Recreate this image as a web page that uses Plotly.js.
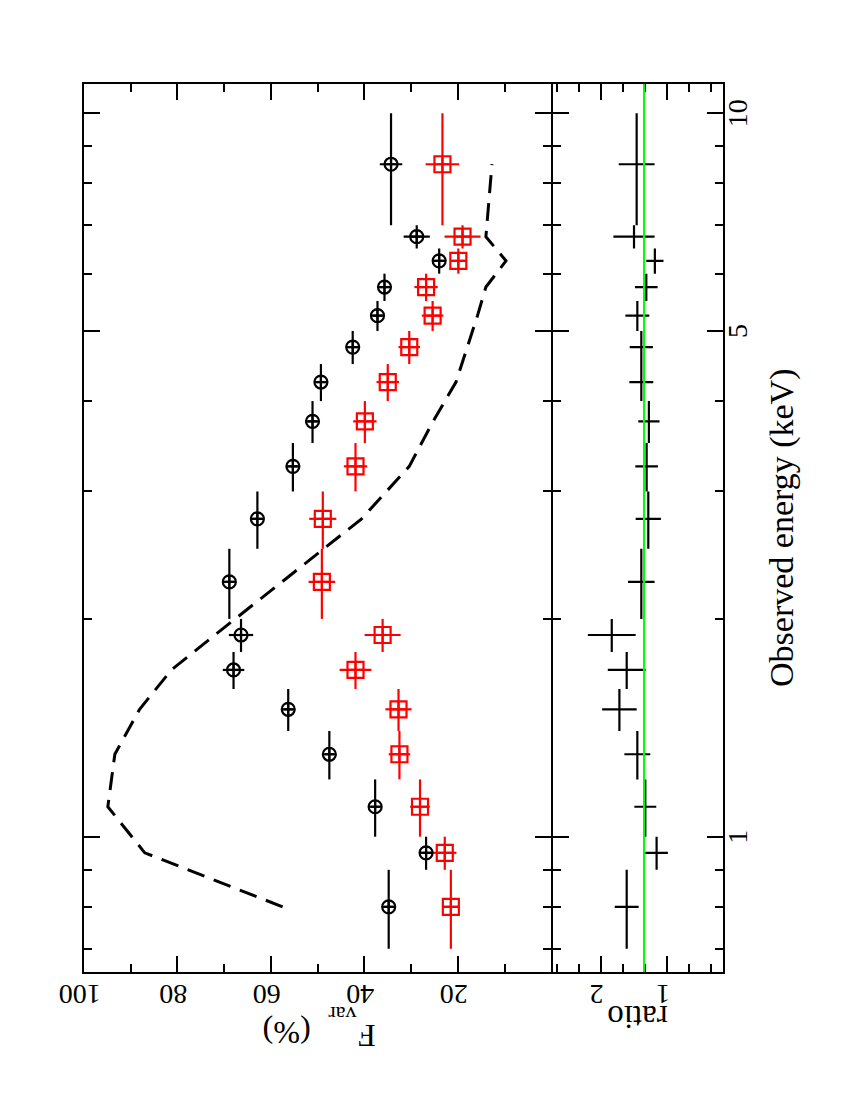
<!DOCTYPE html>
<html>
<head>
<meta charset="utf-8">
<script src="https://cdn.plot.ly/plotly-3.0.1.min.js"></script>
<style>
  html, body { margin: 0; padding: 0; background: #fff; overflow: hidden; }
  #plot {
    position: absolute; left: 0; top: 0;
    width: 1100px; height: 850px;
    transform-origin: 0 0;
    transform: translateY(1100px) rotate(-90deg);
  }
</style>
</head>
<body>
<div id="plot"></div>
<script>
// energy bins (keV)
const binLo  = [0.7, 0.9, 1.0, 1.2, 1.4, 1.6, 1.8, 2.0, 2.5, 3.0, 3.5, 4.0, 4.5, 5.0, 5.5, 6.0, 6.5, 7.0];
const binHi  = [0.9, 1.0, 1.2, 1.4, 1.6, 1.8, 2.0, 2.5, 3.0, 3.5, 4.0, 4.5, 5.0, 5.5, 6.0, 6.5, 7.0, 10.0];
const energy = [0.8, 0.95, 1.1, 1.3, 1.5, 1.7, 1.9, 2.25, 2.75, 3.25, 3.75, 4.25, 4.75, 5.25, 5.75, 6.25, 6.75, 8.5];

// Fvar (%) black circles
const fvarBlack    = [34.8, 26.8, 37.7, 47.5, 56.3, 68.0, 66.4, 68.9, 62.9, 55.3, 51.1, 49.3, 42.5, 37.2, 35.7, 24.0, 28.8, 34.3];
const fvarBlackErr = [1.0, 1.5, 1.0, 1.0, 1.0, 2.3, 2.6, 1.0, 1.0, 1.0, 1.0, 1.0, 1.0, 1.0, 1.0, 1.0, 2.8, 2.4];

// Fvar (%) red squares
const fvarRed    = [21.5, 22.8, 28.1, 32.5, 32.7, 41.9, 36.1, 49.1, 48.9, 41.9, 39.9, 35.0, 30.4, 25.4, 26.8, 19.9, 19.0, 23.3];
const fvarRedErr = [1.8, 2.5, 2.1, 2.3, 2.8, 3.4, 3.85, 2.85, 2.9, 2.5, 2.5, 2.4, 2.3, 2.3, 2.5, 1.5, 3.85, 3.6];

// model curve (dashed)
const fvarModel = [57.5, 87.0, 94.9, 93.4, 88.1, 81.3, 72.0, 57.7, 40.6, 30.4, 25.3, 20.4, 17.9, 15.8, 14.0, 9.7, 14.0, 12.7];

// ratio panel
const ratio    = [1.61, 1.16, 1.33, 1.45, 1.72, 1.61, 1.835, 1.39, 1.285, 1.31, 1.276, 1.39, 1.39, 1.45, 1.315, 1.186, 1.50, 1.46];
const ratioErr = [0.18, 0.17, 0.165, 0.195, 0.26, 0.285, 0.36, 0.2, 0.19, 0.17, 0.16, 0.18, 0.175, 0.18, 0.17, 0.13, 0.31, 0.27];
const ratioFit = 1.35;

// axis ticks
const eTicks = [1, 5, 10];
const eTickText = ['1', '5', '10'];
const eMinor = [0.7, 0.8, 0.9, 2, 3, 4, 6, 7, 8, 9];
const fTicks = [20, 40, 60, 80, 100];
const fMinor = [10, 30, 50, 70, 90];
const rTicks = [1, 2];
const rMinor = [1/3, 2/3, 4/3, 5/3, 7/3, 8/3];

const errPlus = binHi.map((h, i) => h - energy[i]);
const errMinus = binLo.map((l, i) => energy[i] - l);

const FONT = 'Liberation Serif';

function ebars(color) {
  return { type: 'data', symmetric: false, array: errPlus, arrayminus: errMinus,
           color: color, thickness: 2.2, width: 0 };
}

const traces = [
  {
    x: energy, y: fvarModel, xaxis: 'x', yaxis: 'y',
    type: 'scatter', mode: 'lines',
    line: { color: 'black', width: 3, dash: '18px,10px' },
    hoverinfo: 'skip'
  },
  {
    x: energy, y: fvarRed, xaxis: 'x', yaxis: 'y',
    type: 'scatter', mode: 'markers',
    marker: { symbol: 'square-cross-open', size: 16, color: 'red', line: { width: 2.2, color: 'red' } },
    error_x: ebars('red'),
    error_y: { type: 'data', array: fvarRedErr, color: 'red', thickness: 2.2, width: 0 }
  },
  {
    x: energy, y: fvarBlack, xaxis: 'x', yaxis: 'y',
    type: 'scatter', mode: 'markers',
    marker: { symbol: 'circle-cross-open', size: 13, color: 'black', line: { width: 2.2, color: 'black' } },
    error_x: ebars('black'),
    error_y: { type: 'data', array: fvarBlackErr, color: 'black', thickness: 2.2, width: 0 }
  },
  {
    x: energy, y: ratio, xaxis: 'x2', yaxis: 'y2',
    type: 'scatter', mode: 'markers',
    marker: { size: 2, color: 'black' },
    error_x: ebars('black'),
    error_y: { type: 'data', array: ratioErr, color: 'black', thickness: 2.2, width: 0 }
  }
];

const axisBase = {
  showline: true, linecolor: 'black', linewidth: 2, mirror: 'allticks',
  ticks: 'inside', ticklen: 16, tickwidth: 2, tickcolor: 'black',
  showgrid: false, zeroline: false,
  tickfont: { family: FONT, size: 28, color: 'black' }
};

const minorBase = { tickmode: 'array', ticklen: 8, tickwidth: 2, tickcolor: 'black', ticks: 'inside' };

const eRange = [-0.187, 1.0403];
const split = 0.2671;
const gap = 1 / 639;   // lines of both panels meet on the divider

const layout = {
  width: 1100, height: 850,
  margin: { l: 128, r: 84, t: 84, b: 127 },
  paper_bgcolor: 'white', plot_bgcolor: 'white',
  showlegend: false,
  font: { family: FONT, color: 'black' },
  xaxis: Object.assign({}, axisBase, {
    type: 'log', range: eRange, anchor: 'y', showticklabels: false,
    tickmode: 'array', tickvals: eTicks, ticktext: eTickText,
    minor: Object.assign({}, minorBase, { tickvals: eMinor })
  }),
  xaxis2: Object.assign({}, axisBase, {
    type: 'log', range: eRange, anchor: 'y2', matches: 'x',
    tickmode: 'array', tickvals: eTicks, ticktext: eTickText,
    ticklabelstandoff: -12,
    minor: Object.assign({}, minorBase, { tickvals: eMinor })
  }),
  yaxis: Object.assign({}, axisBase, {
    domain: [split + gap, 1], range: [0, 100], anchor: 'x',
    tickmode: 'array', tickvals: fTicks, tickangle: -90,
    minor: Object.assign({}, minorBase, { tickvals: fMinor })
  }),
  yaxis2: Object.assign({}, axisBase, {
    domain: [0, split - gap], range: [0.16, 2.715], anchor: 'x2',
    tickmode: 'array', tickvals: rTicks, tickangle: -90,
    minor: Object.assign({}, minorBase, { tickvals: rMinor })
  }),
  shapes: [
    { type: 'line', xref: 'x2 domain', yref: 'y2', x0: 0, x1: 1, y0: ratioFit, y1: ratioFit,
      line: { color: '#00ff00', width: 2 } }
  ],
  annotations: [
    { text: 'F', xref: 'paper', yref: 'paper', x: -0.0718, y: 0.558, xanchor: 'center', yanchor: 'middle',
      textangle: -90, showarrow: false, font: { family: FONT, size: 32, color: 'black' } },
    { text: 'var', xref: 'paper', yref: 'paper', x: -0.0474, y: 0.5967, xanchor: 'center', yanchor: 'middle',
      textangle: -90, showarrow: false, font: { family: FONT, size: 22, color: 'black' } },
    { text: '(%)', xref: 'paper', yref: 'paper', x: -0.0687, y: 0.6828, xanchor: 'center', yanchor: 'middle',
      textangle: -90, showarrow: false, font: { family: FONT, size: 32, color: 'black' } },
    { text: 'ratio', xref: 'paper', yref: 'paper', x: -0.0516, y: 0.1338, xanchor: 'center', yanchor: 'middle',
      textangle: -90, showarrow: false, font: { family: FONT, size: 33, color: 'black' } },
    { text: 'Observed energy (keV)', xref: 'paper', yref: 'paper', x: 0.5, y: -0.0926, xanchor: 'center', yanchor: 'middle',
      showarrow: false, font: { family: FONT, size: 34, color: 'black' } }
  ]
};

Plotly.newPlot('plot', traces, layout, { staticPlot: true, responsive: false });
</script>
</body>
</html>
